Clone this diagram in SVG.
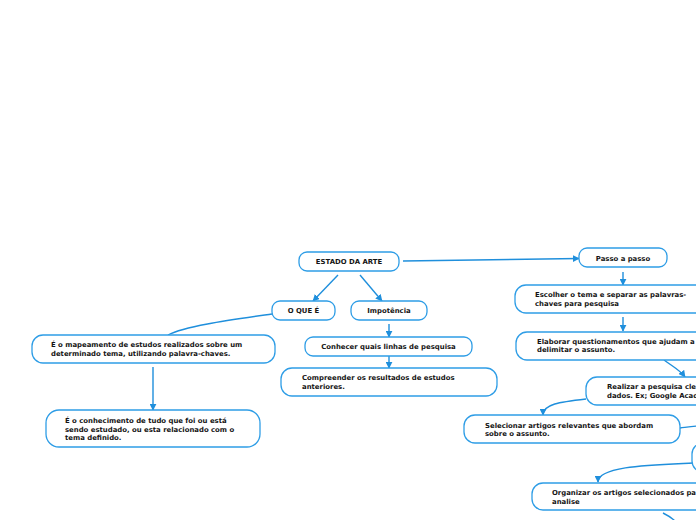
<svg xmlns="http://www.w3.org/2000/svg" width="696" height="520" viewBox="0 0 696 520">
<defs>
<style>
.n rect{fill:#fff;stroke:#2e9de6;stroke-width:1.3}
.n text{font-family:"DejaVu Sans","Liberation Sans",sans-serif;font-weight:bold;font-size:6.9px;fill:#141414}
.c{fill:none;stroke:#1f8fdc;stroke-width:1.4}
</style>
<marker id="a" viewBox="0 0 10 10" refX="9" refY="5" markerWidth="7" markerHeight="7" markerUnits="userSpaceOnUse" orient="auto">
<path d="M0,0L10,5L0,10z" fill="#1f8fdc"/>
</marker>
</defs>
<rect width="696" height="520" fill="#fff"/>
<g id="connectors">
<path class="c" d="M403,261 L579,258.5" marker-end="url(#a)"/>
<path class="c" d="M338,275 L313,301" marker-end="url(#a)"/>
<path class="c" d="M360,275 L382,301" marker-end="url(#a)"/>
<path class="c" d="M389,324 L389,337" marker-end="url(#a)"/>
<path class="c" d="M389,356 L389,368" marker-end="url(#a)"/>
<path class="c" d="M272,314 C230,320 185,326 168,335"/>
<path class="c" d="M153,367 L153,410" marker-end="url(#a)"/>
<path class="c" d="M623,272 L623,285" marker-end="url(#a)"/>
<path class="c" d="M623,317 L623,331" marker-end="url(#a)"/>
<path class="c" d="M664,360 C672,366 680,370 685,377" marker-end="url(#a)"/>
<path class="c" d="M586,399 C560,402 543,404 543,415" marker-end="url(#a)"/>
<path class="c" d="M680,428 C688,427 694,426 700,426"/>
<path class="c" d="M693,463 C650,465 598,466 598,482" marker-end="url(#a)"/>
<path class="c" d="M663,513 C667,515 671,517 675,521"/>
</g>
<g id="estado" class="n"><rect x="299" y="252" width="100" height="19" rx="8"/><text x="349" y="264" text-anchor="middle">ESTADO DA ARTE</text></g>
<g id="oque" class="n"><rect x="272" y="301" width="63" height="19" rx="8"/><text x="303.5" y="313" text-anchor="middle">O QUE É</text></g>
<g id="impotencia" class="n"><rect x="351" y="301" width="76" height="19" rx="8"/><text x="389" y="313" text-anchor="middle">Impotência</text></g>
<g id="conhecer" class="n"><rect x="305" y="337" width="167" height="19" rx="8"/><text x="388.5" y="349" text-anchor="middle">Conhecer quais linhas de pesquisa</text></g>
<g id="compreender" class="n"><rect x="281" y="368" width="216" height="28" rx="11"/><text x="302" y="380">Compreender os resultados de estudos</text><text x="302" y="389">anteriores.</text></g>
<g id="mapeamento" class="n"><rect x="32" y="335" width="243" height="28" rx="11"/><text x="51" y="347">É o mapeamento de estudos realizados sobre um</text><text x="51" y="355.5">determinado tema, utilizando palavra-chaves.</text></g>
<g id="conhecimento" class="n"><rect x="46" y="410" width="214" height="37" rx="13"/><text x="65" y="423">É o conhecimento de tudo que foi ou está</text><text x="65" y="431.5">sendo estudado, ou esta relacionado com o</text><text x="65" y="440">tema definido.</text></g>
<g id="passo" class="n"><rect x="579" y="248" width="88" height="19" rx="8"/><text x="623" y="260.5" text-anchor="middle">Passo a passo</text></g>
<g id="escolher" class="n"><rect x="515" y="285" width="210" height="28" rx="11"/><text x="535" y="297">Escolher o tema e separar as palavras-</text><text x="535" y="305.5">chaves para pesquisa</text></g>
<g id="elaborar" class="n"><rect x="516" y="332" width="210" height="28" rx="11"/><text x="537" y="343.5">Elaborar questionamentos que ajudam a</text><text x="537" y="352">delimitar o assunto.</text></g>
<g id="realizar" class="n"><rect x="586" y="377" width="140" height="28" rx="11"/><text x="607" y="389">Realizar a pesquisa cle</text><text x="607" y="397.5">dados. Ex; Google Acad</text></g>
<g id="selecionar" class="n"><rect x="464" y="415" width="216" height="28" rx="11"/><text x="485" y="427.5">Selecionar artigos relevantes que abordam</text><text x="485" y="436">sobre o assunto.</text></g>
<g id="oculto" class="n"><rect x="692" y="443" width="60" height="29" rx="11"/></g>
<g id="organizar" class="n"><rect x="532" y="483" width="200" height="27" rx="11"/><text x="552" y="495">Organizar os artigos selecionados pa</text><text x="552" y="503.5">analise</text></g>
</svg>
